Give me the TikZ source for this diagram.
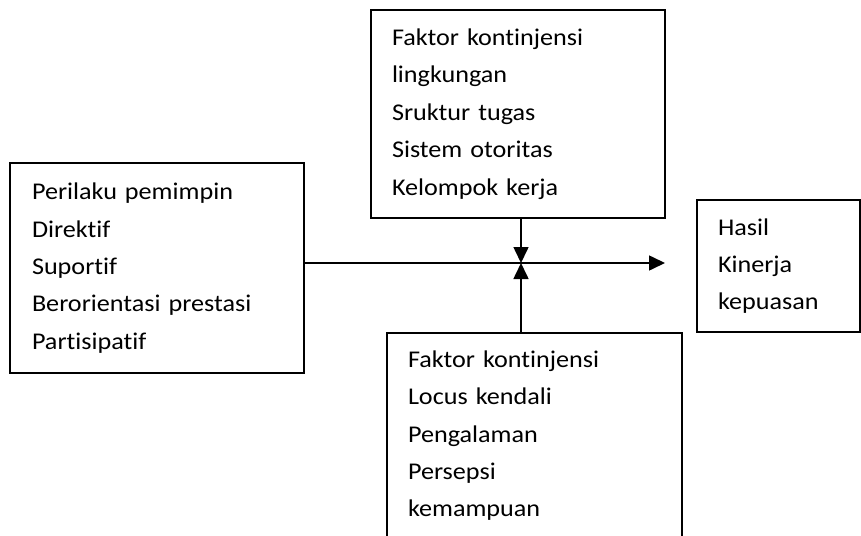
\documentclass[tikz,border=0pt]{standalone}
\usepackage{fontspec}
\setmainfont{Carlito}[Ligatures=NoCommon,FakeStretch=1.09]
\usetikzlibrary{arrows.meta}
\begin{document}
\begin{tikzpicture}[x=1pt,y=-1pt]
  \tikzset{block/.style={shape=rectangle,draw,line width=1.6pt,align=left,inner xsep=21pt,inner ysep=0pt,font=\fontsize{24}{37.4}\selectfont}};
  \tikzset{flow/.style={line width=1.6pt,-{Triangle[length=16pt,width=15pt]}}};
  \useasboundingbox (0,0) rectangle (861,535);
  \node[block,text width=252pt,minimum height=208pt](Lingk) at (518,114){Faktor kontinjensi\\lingkungan\\Sruktur tugas\\Sistem otoritas\\Kelompok kerja};
  \node[block,text width=250pt,inner xsep=22pt,minimum height=210pt](Pemimpin) at (157,268){Perilaku pemimpin\\Direktif\\Suportif\\Berorientasi prestasi\\Partisipatif};
  \node[block,text width=121pt,minimum height=132pt](Hasil) at (778.5,266){Hasil\\Kinerja\\kepuasan};
  \node[block,text width=253pt,minimum height=205pt](Individu) at (534.5,435.6){Faktor kontinjensi\\Locus kendali\\Pengalaman\\Persepsi\\kemampuan};
  \coordinate (Temu) at (521,263);
  \coordinate (Ujung) at (665,263);
  \draw[flow] (Pemimpin.east |- Temu) -- (Ujung);
  \draw[flow] (Lingk.south -| Temu) -- (Temu);
  \draw[flow] (Individu.north -| Temu) -- (Temu);
\end{tikzpicture}
\end{document}
